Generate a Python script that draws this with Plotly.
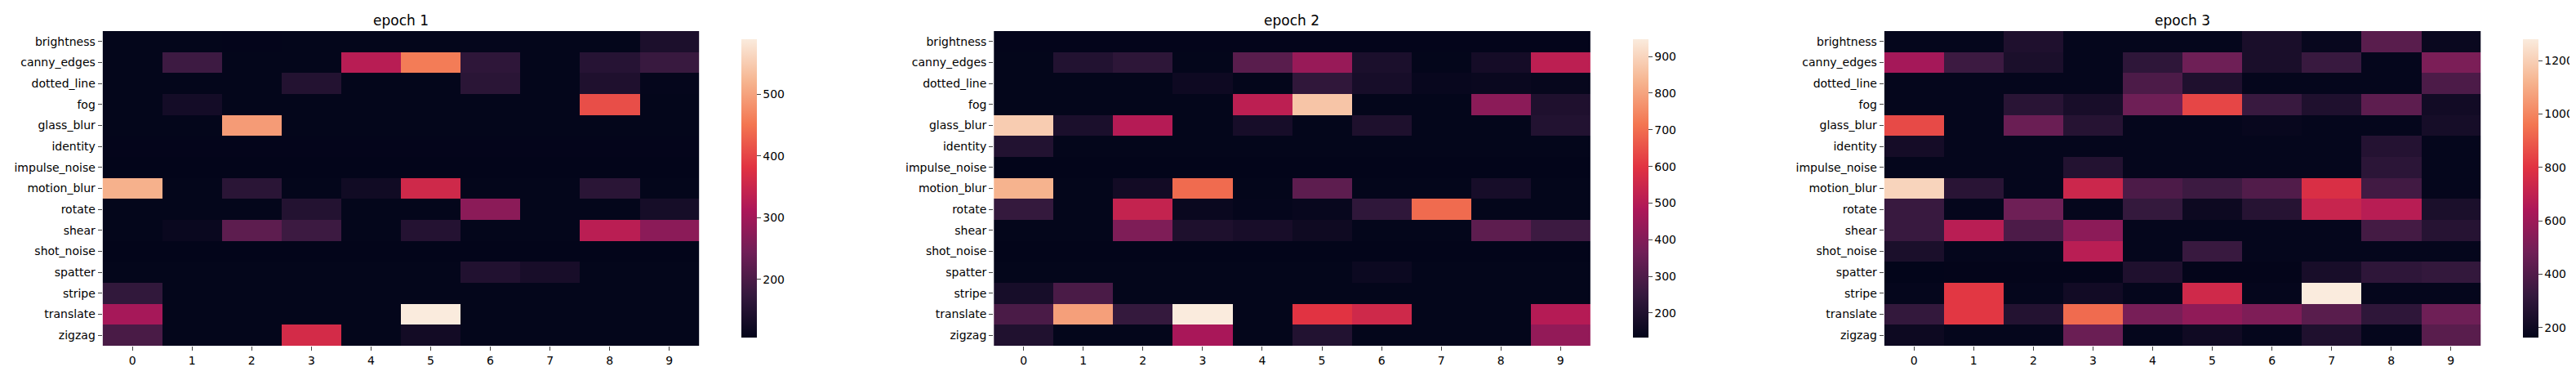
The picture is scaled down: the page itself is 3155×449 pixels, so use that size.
import plotly.graph_objects as go

# confusion-style counts: rows = corruption type, cols = class index
categories = ["brightness", "canny_edges", "dotted_line", "fog", "glass_blur", "identity",
              "impulse_noise", "motion_blur", "rotate", "shear", "shot_noise", "spatter",
              "stripe", "translate", "zigzag"]
classes = ["0", "1", "2", "3", "4", "5", "6", "7", "8", "9"]
titles = ["epoch 1", "epoch 2", "epoch 3"]
cbar_steps = [100, 100, 200]

epoch1 = [
    [108, 108, 107, 108, 108, 108, 109, 108, 108, 140],
    [108, 185, 108, 108, 328, 458, 165, 108, 155, 178],
    [108, 108, 108, 150, 108, 108, 160, 108, 145, 109],
    [108, 130, 108, 108, 108, 108, 108, 108, 410, 108],
    [108, 108, 492, 108, 108, 108, 108, 108, 108, 108],
    [107, 107, 107, 107, 107, 107, 107, 107, 107, 107],
    [106, 106, 106, 106, 106, 106, 106, 106, 106, 106],
    [517, 108, 160, 108, 125, 357, 108, 108, 160, 108],
    [108, 108, 108, 150, 108, 108, 275, 108, 108, 132],
    [108, 116, 222, 183, 108, 152, 108, 108, 330, 275],
    [106, 106, 106, 106, 106, 106, 106, 106, 106, 106],
    [108, 108, 108, 108, 108, 108, 148, 135, 108, 108],
    [170, 108, 108, 108, 108, 108, 108, 108, 108, 108],
    [305, 108, 108, 108, 108, 589, 108, 108, 108, 108],
    [198, 108, 108, 363, 108, 128, 108, 108, 108, 108],
]

epoch2 = [
    [135, 135, 135, 135, 135, 135, 135, 135, 135, 135],
    [136, 206, 230, 136, 320, 442, 190, 136, 174, 515],
    [136, 136, 136, 158, 136, 238, 180, 145, 150, 142],
    [136, 136, 136, 136, 515, 866, 136, 136, 418, 198],
    [882, 190, 500, 136, 180, 136, 195, 136, 136, 206],
    [206, 136, 136, 136, 136, 136, 136, 136, 136, 136],
    [133, 133, 133, 133, 133, 133, 133, 133, 133, 133],
    [829, 136, 170, 695, 136, 328, 136, 136, 180, 136],
    [247, 136, 532, 150, 138, 145, 236, 695, 136, 136],
    [136, 136, 393, 195, 182, 160, 136, 136, 328, 263],
    [134, 134, 134, 134, 134, 134, 134, 134, 134, 134],
    [136, 136, 136, 136, 136, 136, 155, 136, 136, 136],
    [180, 290, 136, 136, 136, 136, 136, 136, 136, 136],
    [290, 792, 247, 947, 136, 598, 556, 136, 136, 500],
    [200, 136, 136, 475, 136, 206, 136, 136, 136, 433],
]

epoch3 = [
    [170, 170, 252, 170, 170, 170, 236, 180, 420, 185],
    [620, 342, 240, 170, 300, 476, 236, 330, 170, 510],
    [170, 170, 170, 170, 386, 252, 170, 170, 170, 386],
    [170, 170, 285, 230, 476, 845, 330, 252, 430, 210],
    [855, 170, 465, 275, 170, 170, 180, 170, 170, 225],
    [222, 170, 170, 170, 170, 170, 170, 170, 270, 170],
    [170, 170, 170, 265, 170, 170, 170, 170, 290, 170],
    [1213, 285, 170, 735, 386, 342, 398, 777, 355, 170],
    [330, 170, 476, 170, 320, 195, 275, 720, 677, 240],
    [330, 680, 386, 555, 170, 170, 170, 170, 364, 275],
    [240, 170, 170, 680, 170, 330, 170, 170, 170, 170],
    [163, 165, 165, 165, 252, 165, 165, 230, 300, 315],
    [170, 810, 170, 210, 170, 745, 170, 1280, 170, 170],
    [315, 810, 265, 935, 500, 565, 520, 420, 300, 476],
    [195, 170, 170, 465, 170, 205, 170, 252, 170, 420],
]

# seaborn "rocket"
rocket = [
    [0.0, "#03051a"], [0.143, "#35193e"], [0.286, "#701f57"], [0.429, "#ad1759"],
    [0.571, "#e13342"], [0.714, "#f37651"], [0.857, "#f6b48f"], [1.0, "#faebdd"],
]

W, H = 3155, 449
lefts = [118, 1213, 2307]
plot_w = 733
cb_gap = 42
y0 = (H - 415) / H
y1 = (H - 30) / H
tick_font = dict(family="DejaVu Sans", size=14, color="black")

fig = go.Figure()
for i, (z, title) in enumerate(zip([epoch1, epoch2, epoch3], titles)):
    ax = "" if i == 0 else str(i + 1)
    left = lefts[i]
    fig.add_trace(go.Heatmap(
        z=z, x=classes, y=categories, colorscale=rocket,
        xaxis="x" + ax, yaxis="y" + ax,
        colorbar=dict(
            x=(left + plot_w + cb_gap) / W, xanchor="left", xref="paper",
            y=(y0 + y1) / 2, yanchor="middle", len=385, lenmode="pixels",
            thickness=19, outlinewidth=0, ticks="outside", ticklen=5,
            tickwidth=1, tickfont=tick_font, tick0=0, dtick=cbar_steps[i],
        ),
    ))
    fig.layout["xaxis" + ax] = dict(
        domain=[left / W, (left + plot_w) / W], anchor="y" + ax, type="category",
        showgrid=False, zeroline=False, ticks="outside", ticklen=5, tickwidth=1,
        tickfont=tick_font,
    )
    fig.layout["yaxis" + ax] = dict(
        domain=[y0, y1], anchor="x" + ax, type="category", autorange="reversed",
        showgrid=False, zeroline=False, ticks="outside", ticklen=5, tickwidth=1,
        tickfont=tick_font,
    )
    fig.add_annotation(
        text=title, x=(left + plot_w / 2) / W, y=(H - 17) / H, xref="paper", yref="paper",
        showarrow=False, font=dict(family="DejaVu Sans", size=17, color="black"),
        xanchor="center", yanchor="middle",
    )

fig.update_layout(
    width=W, height=H, margin=dict(l=0, r=0, t=0, b=0),
    paper_bgcolor="white", plot_bgcolor="white",
)

fig.write_html("out.html")
